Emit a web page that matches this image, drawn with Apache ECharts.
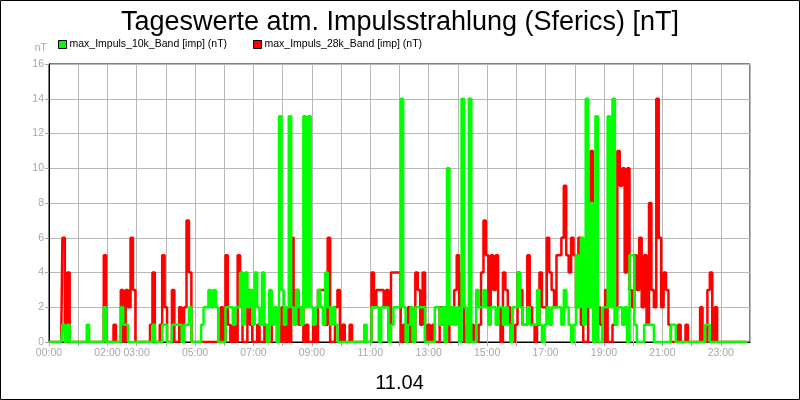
<!DOCTYPE html>
<html><head><meta charset="utf-8">
<script src="https://cdn.jsdelivr.net/npm/echarts@6/dist/echarts.min.js"></script>
<style>html,body{margin:0;padding:0;background:#fff}#c{width:800px;height:400px}</style>
</head><body><div id="c"></div>
<script>
const titleText = 'Tageswerte atm. Impulsstrahlung (Sferics) [nT]';
const dateLabel = '11.04';
const unitLabel = 'nT';
const seriesNames = ['max_Impuls_10k_Band [imp] (nT)', 'max_Impuls_28k_Band [imp] (nT)'];
const stepMinutes = 5;
const xTickLabels = ['00:00','02:00','03:00','05:00','07:00','09:00','11:00','13:00','15:00','17:00','19:00','21:00','23:00'];
const yMin = 0, yMax = 16, yStep = 2;

// 5-minute values, one row per hour (12 values)
const green10k = [
 0,0,0,0,0,0,1,0,1,0,0,0,
 0,0,0,0,1,0,0,0,0,0,0,2,
 0,0,0,0,0,0,2,1,1,0,0,0,
 0,0,0,0,0,0,0,1,0,0,0,1,
 1,0,0,1,1,1,1,0,1,1,2,0,
 0,0,0,1,2,2,3,2,3,2,0,0,
 0,2,2,2,1,2,2,4,1,4,2,3,
 1,4,2,1,4,1,0,3,1,2,0,13,
 3,1,2,13,2,1,3,2,1,13,2,13,
 2,1,2,3,2,1,4,2,1,2,1,0,
 0,0,0,0,0,0,0,0,0,0,1,0,
 0,2,2,2,0,2,2,2,0,1,2,2,
 2,14,2,0,1,2,0,2,2,2,2,0,
 0,0,0,2,2,1,2,0,10,1,2,1,
 2,0,14,2,0,14,0,0,3,2,2,3,
 2,1,2,2,1,2,2,1,2,1,0,2,
 2,4,2,1,1,2,1,1,1,3,1,0,
 1,2,1,2,2,2,2,1,3,2,1,0,
 1,5,2,6,1,14,2,8,0,13,0,0,
 2,2,13,2,14,1,2,2,1,2,0,5,
 5,1,0,0,0,1,1,1,1,0,0,0,
 0,0,0,0,1,1,0,0,0,0,0,0,
 0,0,0,0,0,0,1,1,0,0,0,0,
 0,0,0,0,0,0,0,0,0,0,0,0
];
const red28k = [
 0,0,0,0,0,0,6,0,4,0,0,0,
 0,0,0,0,0,0,0,0,0,0,0,5,
 0,0,0,1,0,0,3,0,3,2,6,3,
 0,0,0,0,0,0,1,4,0,0,1,5,
 2,0,0,3,0,0,2,0,2,7,4,0,
 0,0,0,0,0,0,0,0,0,0,0,2,
 0,5,1,0,1,0,5,4,0,0,3,1,
 0,0,1,0,0,1,0,0,1,2,1,0,
 2,0,2,0,6,2,3,1,2,0,1,0,
 0,1,0,3,3,3,1,6,0,0,2,3,
 0,1,0,0,1,0,0,0,0,0,0,0,
 0,4,2,3,3,3,2,3,0,4,4,4,
 4,0,1,0,2,0,0,4,3,1,4,0,
 1,0,1,0,0,2,1,2,0,2,2,3,
 5,2,4,0,1,0,1,0,0,1,4,7,
 5,2,5,3,5,2,0,4,3,2,1,0,
 1,4,3,1,1,5,2,1,0,1,4,2,
 2,6,4,3,2,5,5,6,9,5,4,6,
 5,2,6,1,0,0,2,11,2,0,2,1,
 0,3,0,0,1,2,11,9,10,4,10,3,
 2,5,3,6,2,5,1,8,3,2,14,6,
 2,4,3,1,0,0,0,1,0,0,1,0,
 0,0,0,0,2,0,0,3,4,0,2,0,
 0,0,0,0,0,0,0,0,0,0,0,0
];

const FONT = "'Liberation Sans', Arial, sans-serif";
const GREY = '#a8a8a8';
const toPairs = arr => arr.map((v, i) => [i * stepMinutes / 60, v]);
const fmtHour = v => (v < 10 ? '0' : '') + v + ':00';

const legendBase = {itemWidth: 8, itemHeight: 8, icon: 'rect', itemGap: 0, padding: 0,
  itemStyle: {borderColor: '#000', borderWidth: 1},
  textStyle: {fontFamily: FONT, fontSize: 10.5, color: '#000', padding: [0, 0, 0, -2]}};

const chart = echarts.init(document.getElementById('c'), null, {renderer: 'canvas'});
chart.setOption({
  animation: false,
  backgroundColor: '#fff',
  textStyle: {fontFamily: FONT},
  title: {
    text: titleText, left: 'center', top: 4,
    textStyle: {fontFamily: FONT, fontSize: 27, fontWeight: 'normal', color: '#000'}
  },
  graphic: [{type: 'rect', shape: {x: 0.5, y: 0.5, width: 799, height: 399},
    style: {fill: 'none', stroke: '#000', lineWidth: 1}, silent: true}],
  legend: [
    Object.assign({data: [seriesNames[0]], left: 58, top: 39}, legendBase),
    Object.assign({data: [seriesNames[1]], left: 253, top: 39}, legendBase)
  ],
  grid: {left: 49, right: 50, top: 64, bottom: 58, show: true, borderColor: '#000', borderWidth: 1, containLabel: false},
  xAxis: {
    type: 'value', min: 0, max: 24, interval: 1,
    name: dateLabel, nameLocation: 'middle', nameGap: 31,
    nameTextStyle: {fontFamily: FONT, fontSize: 20, color: '#000'},
    axisLine: {show: true, lineStyle: {color: '#000', width: 1}},
    axisTick: {show: true, length: 4, lineStyle: {color: GREY}},
    axisLabel: {color: GREY, fontFamily: FONT, fontSize: 10.5, margin: 6, showMaxLabel: false,
      formatter: v => { const s = fmtHour(v); return xTickLabels.indexOf(s) >= 0 ? s : ''; }},
    splitLine: {show: true, lineStyle: {color: '#b8b8b8', width: 1}}
  },
  yAxis: {
    type: 'value', min: yMin, max: yMax, interval: yStep,
    name: unitLabel, nameLocation: 'end', nameGap: 10,
    nameTextStyle: {fontFamily: FONT, fontSize: 10.5, color: GREY, align: 'right', padding: [0, 2, 0, 0]},
    axisLine: {show: true, lineStyle: {color: '#000', width: 1}},
    axisTick: {show: true, length: 4, lineStyle: {color: GREY}},
    axisLabel: {color: GREY, fontFamily: FONT, fontSize: 10.5, margin: 5},
    splitLine: {show: true, lineStyle: {color: '#b8b8b8', width: 1}}
  },
  series: [
    {name: seriesNames[1], type: 'line', step: 'middle', data: toPairs(red28k), showSymbol: false, symbol: 'none',
     color: '#ff0000', lineStyle: {color: '#ff0000', width: 2.5}, z: 2},
    {name: seriesNames[0], type: 'line', step: 'middle', data: toPairs(green10k), showSymbol: false, symbol: 'none',
     color: '#00ff00', lineStyle: {color: '#00ff00', width: 2.5}, z: 3}
  ]
});
</script></body></html>
